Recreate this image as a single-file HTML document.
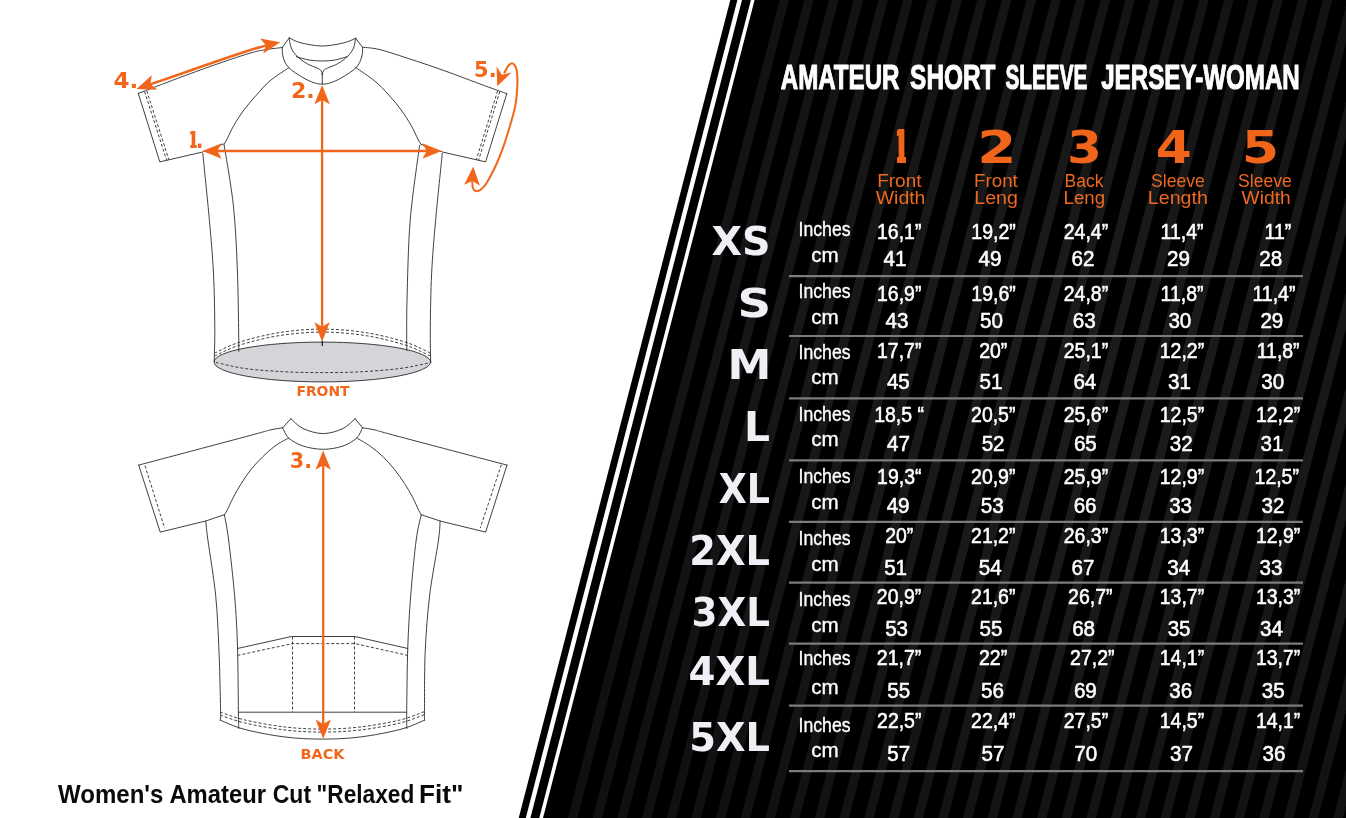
<!DOCTYPE html>
<html lang="en">
<head>
<meta charset="utf-8">
<title>Amateur Short Sleeve Jersey - Woman - Size Chart</title>
<style>
html,body{margin:0;padding:0;background:#fff;}
body{width:1346px;height:818px;overflow:hidden;font-family:"Liberation Sans",sans-serif;}
svg{display:block;}
text{white-space:pre;}
</style>
</head>
<body>
<svg width="1346" height="818" viewBox="0 0 1346 818">
<rect width="1346" height="818" fill="#ffffff"/>

<g id="panel">
<polygon points="730.3,0 737.4,0 525.8,818 518.7,818" fill="#000"/>
<polygon points="742.0,0 750.9,0 539.3,818 530.4,818" fill="#000"/>
<polygon points="754.6,0 1346,0 1346,818 543.0,818" fill="#000"/>
<defs><radialGradient id="sg" gradientUnits="userSpaceOnUse" cx="1070" cy="400" r="540"><stop offset="0" stop-color="#1c1c1c"/><stop offset="0.45" stop-color="#181818"/><stop offset="1" stop-color="#101010"/></radialGradient></defs>
<g fill="url(#sg)">
<polygon points="779.6,0 789.0,0 577.4,818 568.0,818"/>
<polygon points="804.3,0 813.7,0 602.1,818 592.7,818"/>
<polygon points="829.0,0 838.4,0 626.8,818 617.4,818"/>
<polygon points="853.7,0 863.1,0 651.5,818 642.1,818"/>
<polygon points="878.4,0 887.8,0 676.2,818 666.8,818"/>
<polygon points="903.0,0 912.5,0 700.9,818 691.4,818"/>
<polygon points="927.7,0 937.1,0 725.5,818 716.1,818"/>
<polygon points="952.4,0 961.8,0 750.2,818 740.8,818"/>
<polygon points="977.1,0 986.5,0 774.9,818 765.5,818"/>
<polygon points="1001.8,0 1011.2,0 799.6,818 790.2,818"/>
<polygon points="1026.5,0 1035.9,0 824.3,818 814.9,818"/>
<polygon points="1051.2,0 1060.6,0 849.0,818 839.6,818"/>
<polygon points="1075.9,0 1085.3,0 873.7,818 864.3,818"/>
<polygon points="1100.6,0 1110.0,0 898.4,818 889.0,818"/>
<polygon points="1125.3,0 1134.7,0 923.1,818 913.7,818"/>
<polygon points="1150.0,0 1159.4,0 947.8,818 938.4,818"/>
<polygon points="1174.6,0 1184.0,0 972.4,818 963.0,818"/>
<polygon points="1199.3,0 1208.7,0 997.1,818 987.7,818"/>
<polygon points="1224.0,0 1233.4,0 1021.8,818 1012.4,818"/>
<polygon points="1248.7,0 1258.1,0 1046.5,818 1037.1,818"/>
<polygon points="1273.4,0 1282.8,0 1071.2,818 1061.8,818"/>
<polygon points="1298.1,0 1307.5,0 1095.9,818 1086.5,818"/>
<polygon points="1322.8,0 1332.2,0 1120.6,818 1111.2,818"/>
<polygon points="1347.5,0 1356.9,0 1145.3,818 1135.9,818"/>
<polygon points="1372.2,0 1381.6,0 1170.0,818 1160.6,818"/>
<polygon points="1396.8,0 1406.2,0 1194.7,818 1185.2,818"/>
<polygon points="1421.5,0 1430.9,0 1219.3,818 1209.9,818"/>
<polygon points="1446.2,0 1455.6,0 1244.0,818 1234.6,818"/>
<polygon points="1470.9,0 1480.3,0 1268.7,818 1259.3,818"/>
<polygon points="1495.6,0 1505.0,0 1293.4,818 1284.0,818"/>
<polygon points="1520.3,0 1529.7,0 1318.1,818 1308.7,818"/>
<polygon points="1545.0,0 1554.4,0 1342.8,818 1333.4,818"/>
<polygon points="1569.7,0 1579.1,0 1367.5,818 1358.1,818"/>
<polygon points="1594.4,0 1603.8,0 1392.2,818 1382.8,818"/>
</g></g>
<g id="rules" stroke="#7c7c7c" stroke-width="2.2">
<line x1="789" y1="276.1" x2="1303" y2="276.1"/>
<line x1="789" y1="336.0" x2="1303" y2="336.0"/>
<line x1="789" y1="398.3" x2="1303" y2="398.3"/>
<line x1="789" y1="460.4" x2="1303" y2="460.4"/>
<line x1="789" y1="521.9" x2="1303" y2="521.9"/>
<line x1="789" y1="582.7" x2="1303" y2="582.7"/>
<line x1="789" y1="643.7" x2="1303" y2="643.7"/>
<line x1="789" y1="705.7" x2="1303" y2="705.7"/>
<line x1="789" y1="771.1" x2="1303" y2="771.1"/>
</g>
<g id="jersey-front" fill="none" stroke="#2a2a2a" stroke-width="0.9" stroke-linecap="round" stroke-linejoin="round">
<ellipse cx="322.4" cy="362" rx="108.3" ry="19.9" fill="#d3d5d9"/>
<path d="M289.2,37.8 C291.0,38.6 294.5,41.2 300.0,42.6 C305.5,44.0 315.0,46.0 322.3,46.0 C329.6,46.0 338.4,44.1 344.0,42.8 C349.6,41.5 353.7,39.0 355.6,38.2"/>
<path d="M296.3,56.6 C298.4,57.2 304.7,59.3 309.0,60.0 C313.3,60.7 318.0,61.0 322.3,61.0 C326.6,61.0 330.8,60.7 335.0,60.0 C339.2,59.3 345.2,57.2 347.3,56.6"/>
<path d="M289.2,38.0 C289.6,39.7 290.0,45.0 291.3,48.0 C292.6,51.0 294.4,53.6 297.0,56.2 C299.6,58.8 303.6,61.6 306.9,63.6 C310.2,65.6 314.7,66.9 317.0,68.0 C319.3,69.1 320.0,69.3 320.9,70.4 C321.8,71.5 322.1,73.8 322.3,74.5"/>
<path d="M355.6,38.2 C355.2,39.8 354.8,45.0 353.5,48.0 C352.2,51.0 350.4,53.6 347.8,56.2 C345.2,58.8 341.2,61.6 337.9,63.6 C334.6,65.6 330.1,66.9 327.8,68.0 C325.5,69.1 324.7,69.3 323.8,70.4 C322.9,71.5 322.6,73.8 322.3,74.5"/>
<path d="M282.3,47.4 C282.4,49.0 282.0,53.6 283.1,57.0 C284.2,60.4 285.5,64.3 288.8,67.7 C292.1,71.1 298.6,75.0 302.8,77.5 C307.0,80.0 310.9,81.7 314.2,82.8 C317.5,83.9 319.7,84.1 322.4,84.1 C325.1,84.1 327.3,83.9 330.6,82.8 C333.9,81.7 337.8,80.0 342.0,77.5 C346.2,75.0 352.7,71.1 356.0,67.7 C359.3,64.3 360.6,60.4 361.7,57.0 C362.8,53.6 362.5,48.9 362.6,47.3"/>
<path d="M289.2,38.0 L282.3,47.4"/>
<path d="M355.6,38.2 L362.5,47.3"/>
<path d="M322.3,73.5 L322.3,84.2"/>
<path d="M282.2,47.5 C279.5,47.9 271.6,48.6 266.0,49.6 C260.4,50.6 257.7,50.9 248.9,53.5 C240.1,56.1 225.1,61.3 213.2,65.4 C201.3,69.6 190.1,73.7 177.6,78.4 C165.1,83.1 144.9,90.9 138.3,93.4"/>
<path d="M138.3,93.4 L159.8,161.9 L202.6,152.0 L223.1,144.0"/>
<path d="M362.8,47.2 C365.5,47.6 372.2,47.8 379.0,49.4 C385.8,51.0 392.9,53.5 403.8,57.0 C414.7,60.5 430.7,65.8 444.1,70.6 C457.5,75.4 473.9,81.8 484.4,85.6 C494.8,89.4 503.1,92.3 506.8,93.6"/>
<path d="M506.8,93.6 L485.6,161.9 L442.8,152.1 L421.3,144.5"/>
<path d="M288.8,67.7 C285.7,69.9 275.4,76.2 270.0,80.8 C264.6,85.3 260.9,90.1 256.5,95.0 C252.2,99.9 247.7,104.9 243.9,110.0 C240.1,115.1 236.6,120.7 233.8,125.5 C231.0,130.3 228.8,135.7 227.1,138.9 C225.4,142.1 224.4,143.9 223.8,144.9"/>
<path d="M356.0,67.7 C359.2,70.0 369.5,76.7 375.0,81.2 C380.5,85.8 384.4,90.2 388.8,95.0 C393.2,99.8 397.5,104.9 401.2,110.0 C404.9,115.1 408.4,120.7 411.2,125.5 C414.0,130.3 416.1,135.7 417.8,138.9 C419.5,142.1 420.7,143.7 421.3,144.7"/>
<path d="M202.8,153.4 C203.9,164.6 207.6,200.2 209.4,220.3 C211.2,240.4 212.6,256.0 213.5,273.8 C214.4,291.6 214.7,312.8 214.8,327.4 C214.9,342.0 214.3,355.8 214.2,361.5"/>
<path d="M224.2,145.4 C225.8,155.7 231.3,185.5 233.5,206.9 C235.7,228.3 236.6,249.7 237.5,273.8 C238.4,297.9 238.7,338.4 238.9,351.3"/>
<path d="M419.6,145.4 C418.0,157.9 412.3,194.4 410.2,220.3 C408.1,246.2 407.6,278.9 407.0,300.6 C406.4,322.3 406.8,342.2 406.8,350.5"/>
<path d="M442.3,153.4 C441.2,164.6 437.4,200.2 435.6,220.3 C433.8,240.4 432.5,256.0 431.6,273.8 C430.7,291.6 430.5,312.6 430.3,327.4 C430.1,342.2 430.6,356.6 430.7,362.5"/>
<path d="M146.8,90.9 L168.8,159.6" stroke-dasharray="3 2" stroke-linecap="butt"/>
<path d="M144.6,91.6 L166.6,160.3" stroke-dasharray="3 2" stroke-linecap="butt"/>
<path d="M497.6,90.9 L476.4,159.6" stroke-dasharray="3 2" stroke-linecap="butt"/>
<path d="M499.8,91.6 L478.6,160.3" stroke-dasharray="3 2" stroke-linecap="butt"/>
<path d="M214.6,353.1 C218.8,351.2 229.1,345.4 240.0,342.0 C250.9,338.6 266.3,334.6 280.0,332.5 C293.7,330.4 308.2,329.1 322.4,329.1 C336.6,329.1 351.2,330.4 365.0,332.5 C378.8,334.6 394.1,338.6 405.0,342.0 C415.9,345.4 426.2,351.2 430.5,353.1" stroke-dasharray="3 2" stroke-linecap="butt"/>
<path d="M214.6,356.1 C218.8,354.2 229.1,348.4 240.0,345.0 C250.9,341.6 266.3,337.6 280.0,335.5 C293.7,333.4 308.2,332.1 322.4,332.1 C336.6,332.1 351.2,333.4 365.0,335.5 C378.8,337.6 394.1,341.6 405.0,345.0 C415.9,348.4 426.2,354.2 430.5,356.1" stroke-dasharray="3 2" stroke-linecap="butt"/>
<path d="M216.0,362.5 C220.8,363.5 233.5,366.9 245.0,368.5 C256.5,370.1 272.1,371.1 285.0,371.8 C297.9,372.5 309.9,372.6 322.4,372.6 C334.9,372.6 347.1,372.5 360.0,371.8 C372.9,371.1 388.5,370.0 400.0,368.5 C411.5,367.0 424.0,363.9 428.8,363.0" stroke-dasharray="3 2" stroke-linecap="butt"/>
<path d="M322.3,341 L322.3,345.5" stroke="#111" stroke-width="1.2"/>
</g>
<g id="jersey-back" fill="none" stroke="#2a2a2a" stroke-width="0.9" stroke-linecap="round" stroke-linejoin="round">
<path d="M290.9,418.7 C292.9,420.3 297.6,426.0 303.0,428.5 C308.4,431.0 316.5,433.6 323.2,433.6 C329.9,433.6 337.7,431.0 343.0,428.5 C348.3,426.0 353.1,420.3 355.1,418.7"/>
<path d="M282.7,427.8 C283.7,429.5 285.2,435.0 288.6,438.0 C292.0,441.0 297.2,444.1 303.0,446.0 C308.8,447.9 316.5,449.3 323.2,449.3 C329.9,449.3 337.4,447.9 343.0,446.0 C348.6,444.1 353.4,441.0 356.7,438.0 C359.9,435.0 361.5,429.5 362.5,427.8"/>
<path d="M290.9,418.7 L282.7,427.8"/>
<path d="M355.1,418.7 L362.5,427.8"/>
<path d="M282.7,427.8 C280.6,428.2 275.4,428.7 270.0,430.0 C264.6,431.3 271.9,429.6 250.0,435.5 C228.1,441.4 157.2,460.2 138.7,465.1"/>
<path d="M138.7,465.1 L160.2,532.1 L205.7,521.0 L224.4,514.7"/>
<path d="M362.5,427.8 C364.6,428.2 369.6,428.7 375.0,430.0 C380.4,431.3 373.0,429.6 395.0,435.5 C417.0,441.4 488.3,460.2 507.0,465.1"/>
<path d="M507.0,465.1 L485.6,532.1 L440.1,521.0 L421.3,514.7"/>
<path d="M288.6,438.0 C286.3,439.3 279.3,442.9 275.0,446.0 C270.7,449.1 266.8,452.8 262.8,456.7 C258.8,460.6 254.6,465.0 251.0,469.5 C247.4,474.0 244.2,478.9 241.3,483.5 C238.4,488.1 235.9,492.5 233.5,497.0 C231.1,501.5 228.6,507.4 227.1,510.3 C225.6,513.2 224.8,514.0 224.4,514.7"/>
<path d="M356.7,438.0 C358.9,439.3 365.6,442.9 370.0,446.0 C374.4,449.1 378.9,452.8 383.0,456.7 C387.1,460.6 390.9,465.0 394.5,469.5 C398.1,474.0 401.5,478.9 404.5,483.5 C407.5,488.1 410.1,492.5 412.5,497.0 C414.9,501.5 417.2,507.4 418.7,510.3 C420.2,513.2 420.9,514.0 421.3,514.7"/>
<path d="M205.7,521.0 C206.1,524.2 206.2,527.5 207.9,540.0 C209.6,552.5 213.8,577.1 215.7,595.7 C217.5,614.3 218.2,632.1 219.0,651.4 C219.8,670.7 220.4,700.1 220.6,711.6 C220.8,723.1 220.2,718.7 220.1,720.1"/>
<path d="M224.4,514.7 C225.1,518.9 226.9,526.5 228.6,540.0 C230.3,553.5 233.1,577.9 234.6,595.7 C236.1,613.5 236.9,627.7 237.5,647.0 C238.1,666.3 238.2,698.0 238.4,711.6 C238.6,725.2 238.6,725.7 238.7,728.5"/>
<path d="M421.3,514.7 C420.4,518.9 418.0,526.5 416.2,540.0 C414.4,553.5 412.1,577.9 410.7,595.7 C409.3,613.5 408.5,627.7 407.8,647.0 C407.1,666.3 406.9,698.0 406.7,711.6 C406.5,725.2 406.9,725.7 406.9,728.5"/>
<path d="M440.1,521.0 C439.8,524.2 440.2,527.5 438.5,540.0 C436.8,552.5 431.8,577.1 429.6,595.7 C427.4,614.3 426.1,632.1 425.2,651.4 C424.3,670.7 424.6,700.1 424.5,711.6 C424.4,723.1 424.7,718.7 424.7,720.1"/>
<path d="M237.5,648.5 L291.4,636.5 L354.9,636.5 L407.8,648.5"/>
<path d="M238.4,712.2 L406.7,712.2"/>
<path d="M220.1,720.1 C224.2,721.7 234.2,726.7 245.0,729.5 C255.8,732.3 272.1,735.4 285.0,737.0 C297.9,738.6 309.9,739.1 322.4,739.1 C334.9,739.1 347.1,738.6 360.0,737.0 C372.9,735.4 389.2,732.3 400.0,729.5 C410.8,726.7 420.6,721.7 424.7,720.1"/>
<path d="M145.0,465.7 L164.6,528.1" stroke-dasharray="3 2" stroke-linecap="butt"/>
<path d="M501.3,464.8 L480.2,528.1" stroke-dasharray="3 2" stroke-linecap="butt"/>
<path d="M237.5,655.4 L292.5,643.6 L354.9,643.6 L407.8,655.4" stroke-dasharray="3 2" stroke-linecap="butt"/>
<path d="M292.5,636.5 L292.5,712.2" stroke-dasharray="3 2" stroke-linecap="butt"/>
<path d="M354.5,636.5 L354.5,712.2" stroke-dasharray="3 2" stroke-linecap="butt"/>
<path d="M220.1,712.1 C224.2,713.4 234.2,717.5 245.0,720.0 C255.8,722.5 272.1,725.5 285.0,727.0 C297.9,728.5 309.9,729.1 322.4,729.1 C334.9,729.1 347.1,728.5 360.0,727.0 C372.9,725.5 389.2,722.6 400.0,720.0 C410.8,717.4 420.6,712.9 424.7,711.5" stroke-dasharray="3 2" stroke-linecap="butt"/>
<path d="M220.1,715.1 C224.2,716.4 234.2,720.5 245.0,723.0 C255.8,725.5 272.1,728.5 285.0,730.0 C297.9,731.5 309.9,732.1 322.4,732.1 C334.9,732.1 347.1,731.5 360.0,730.0 C372.9,728.5 389.2,725.6 400.0,723.0 C410.8,720.4 420.6,715.9 424.7,714.5" stroke-dasharray="3 2" stroke-linecap="butt"/>
</g>
<g id="arrows">
<line x1="216.3" y1="151.0" x2="427.8" y2="151.0" stroke="#f2661b" stroke-width="2.4"/><polygon points="202.5,151.0 221.7,143.3 217.3,151.0 221.7,158.7" fill="#f2661b"/><polygon points="441.6,151.0 422.4,158.7 426.8,151.0 422.4,143.3" fill="#f2661b"/>
<line x1="322.1" y1="98.9" x2="322.1" y2="327.7" stroke="#f2661b" stroke-width="2.3"/><polygon points="322.1,85.1 329.8,104.3 322.1,99.9 314.4,104.3" fill="#f2661b"/><polygon points="322.1,341.5 314.4,322.3 322.1,326.7 329.8,322.3" fill="#f2661b"/>
<path d="M147.5,85.3 C148.6,84.9 148.8,84.8 153.8,83.1 C158.8,81.4 167.7,78.4 177.6,75.0 C187.5,71.6 201.3,66.6 213.2,62.5 C225.1,58.4 240.8,53.1 248.9,50.5 C257.0,47.9 258.7,47.5 262.0,46.6 C265.3,45.7 267.4,45.3 268.5,45.0" fill="none" stroke="#f2661b" stroke-width="2.5"/>
<polygon points="136.5,89.1 151.8,75.2 150.4,84.0 157.2,89.7" fill="#f2661b"/>
<polygon points="280.4,42.2 263.2,53.6 265.9,45.2 260.0,38.5" fill="#f2661b"/>
<line x1="323.2" y1="464.3" x2="323.2" y2="724.9" stroke="#f2661b" stroke-width="2.3"/><polygon points="323.2,450.5 330.9,469.7 323.2,465.3 315.5,469.7" fill="#f2661b"/><polygon points="323.2,738.7 315.5,719.5 323.2,723.9 330.9,719.5" fill="#f2661b"/>
<path d="M504.5,72.5 C505.1,71.5 506.9,67.7 508.0,66.2 C509.1,64.7 510.2,63.6 511.3,63.4 C512.4,63.2 513.6,63.9 514.5,65.0 C515.4,66.2 516.2,67.2 516.7,70.3 C517.2,73.4 517.6,78.2 517.4,83.8 C517.2,89.4 516.6,97.9 515.6,103.9 C514.6,109.9 513.1,114.9 511.7,120.0 C510.3,125.1 508.9,129.8 507.3,134.7 C505.8,139.6 504.2,144.5 502.4,149.4 C500.6,154.3 498.4,159.6 496.5,164.0 C494.6,168.4 492.6,172.2 490.7,175.8 C488.8,179.4 486.8,183.1 484.8,185.6 C482.8,188.1 480.6,189.9 478.9,190.7 C477.2,191.5 475.8,191.1 474.8,190.6 C473.8,190.1 473.2,188.9 472.8,187.5 C472.4,186.1 472.3,182.9 472.2,182.0" fill="none" stroke="#f2661b" stroke-width="2.0" stroke-linecap="round"/>
<polygon points="497.2,86.3 496.6,66.6 501.9,74.7 511.4,72.6" fill="#f2661b"/>
<polygon points="473.3,166.5 479.9,185.8 472.3,181.0 464.1,184.7" fill="#f2661b"/>
</g>
<defs><filter id="fat0" x="-300%" y="-10%" width="700%" height="120%"><feMorphology operator="dilate" radius="16.0 0"/></filter><filter id="fat1" x="-300%" y="-10%" width="700%" height="120%"><feMorphology operator="dilate" radius="8.7 0"/></filter></defs>
<g id="labels" opacity="0.999">
<text transform="matrix(0.24127 0 0 0.34493 780.73 88.65)" font-family='"Liberation Sans", sans-serif' font-weight="700" font-size="100" fill="#ffffff" stroke="#ffffff" stroke-width="3.07" stroke-linejoin="round" xml:space="preserve">AMATEUR</text>
<text transform="matrix(0.24393 0 0 0.34493 910.12 88.65)" font-family='"Liberation Sans", sans-serif' font-weight="700" font-size="100" fill="#ffffff" stroke="#ffffff" stroke-width="3.06" stroke-linejoin="round" xml:space="preserve">SHORT</text>
<text transform="matrix(0.20747 0 0 0.34493 1005.53 88.65)" font-family='"Liberation Sans", sans-serif' font-weight="700" font-size="100" fill="#ffffff" stroke="#ffffff" stroke-width="3.26" stroke-linejoin="round" xml:space="preserve">SLEEVE</text>
<text transform="matrix(0.24165 0 0 0.34493 1101.17 88.65)" font-family='"Liberation Sans", sans-serif' font-weight="700" font-size="100" fill="#ffffff" stroke="#ffffff" stroke-width="3.07" stroke-linejoin="round" xml:space="preserve">JERSEY-WOMAN</text>
<text transform="matrix(0.10000 0 0 0.45890 897.80 163.30)" font-family='"DejaVu Sans", sans-serif' font-weight="700" font-size="100" fill="#f2661b" filter="url(#fat0)" xml:space="preserve">1</text>
<text transform="matrix(0.56226 0 0 0.45270 977.30 163.30)" font-family='"DejaVu Sans", sans-serif' font-weight="700" font-size="100" fill="#f2661b" xml:space="preserve">2</text>
<text transform="matrix(0.50182 0 0 0.44079 1066.89 162.86)" font-family='"DejaVu Sans", sans-serif' font-weight="700" font-size="100" fill="#f2661b" xml:space="preserve">3</text>
<text transform="matrix(0.51967 0 0 0.45270 1155.72 162.85)" font-family='"DejaVu Sans", sans-serif' font-weight="700" font-size="100" fill="#f2661b" xml:space="preserve">4</text>
<text transform="matrix(0.53636 0 0 0.45270 1241.71 162.85)" font-family='"DejaVu Sans", sans-serif' font-weight="700" font-size="100" fill="#f2661b" xml:space="preserve">5</text>
<text transform="matrix(0.19022 0 0 0.18261 877.18 186.90)" font-family='"Liberation Sans", sans-serif' font-weight="400" font-size="100" fill="#ee6a22" xml:space="preserve">Front</text>
<text transform="matrix(0.19478 0 0 0.18261 875.70 203.50)" font-family='"Liberation Sans", sans-serif' font-weight="400" font-size="100" fill="#ee6a22" xml:space="preserve">Width</text>
<text transform="matrix(0.18800 0 0 0.18261 974.00 186.90)" font-family='"Liberation Sans", sans-serif' font-weight="400" font-size="100" fill="#ee6a22" xml:space="preserve">Front</text>
<text transform="matrix(0.19567 0 0 0.18261 974.33 203.50)" font-family='"Liberation Sans", sans-serif' font-weight="400" font-size="100" fill="#ee6a22" xml:space="preserve">Leng</text>
<text transform="matrix(0.17477 0 0 0.18261 1064.60 186.90)" font-family='"Liberation Sans", sans-serif' font-weight="400" font-size="100" fill="#ee6a22" xml:space="preserve">Back</text>
<text transform="matrix(0.18702 0 0 0.18261 1063.50 203.50)" font-family='"Liberation Sans", sans-serif' font-weight="400" font-size="100" fill="#ee6a22" xml:space="preserve">Leng</text>
<text transform="matrix(0.17542 0 0 0.18261 1151.12 186.90)" font-family='"Liberation Sans", sans-serif' font-weight="400" font-size="100" fill="#ee6a22" xml:space="preserve">Sleeve</text>
<text transform="matrix(0.19658 0 0 0.18261 1147.83 203.50)" font-family='"Liberation Sans", sans-serif' font-weight="400" font-size="100" fill="#ee6a22" xml:space="preserve">Length</text>
<text transform="matrix(0.17576 0 0 0.18261 1238.02 186.90)" font-family='"Liberation Sans", sans-serif' font-weight="400" font-size="100" fill="#ee6a22" xml:space="preserve">Sleeve</text>
<text transform="matrix(0.19197 0 0 0.18261 1241.60 203.50)" font-family='"Liberation Sans", sans-serif' font-weight="400" font-size="100" fill="#ee6a22" xml:space="preserve">Width</text>
<text transform="matrix(0.39643 0 0 0.38816 711.51 255.21)" font-family='"DejaVu Sans", sans-serif' font-weight="700" font-size="100" fill="#f2f0f7" xml:space="preserve">XS</text>
<text transform="matrix(0.46724 0 0 0.38816 737.43 317.41)" font-family='"DejaVu Sans", sans-serif' font-weight="700" font-size="100" fill="#f2f0f7" xml:space="preserve">S</text>
<text transform="matrix(0.44074 0 0 0.40411 727.53 379.10)" font-family='"DejaVu Sans", sans-serif' font-weight="700" font-size="100" fill="#f2f0f7" xml:space="preserve">M</text>
<text transform="matrix(0.40769 0 0 0.40959 743.93 440.50)" font-family='"DejaVu Sans", sans-serif' font-weight="700" font-size="100" fill="#f2f0f7" xml:space="preserve">L</text>
<text transform="matrix(0.36397 0 0 0.40137 718.77 503.00)" font-family='"DejaVu Sans", sans-serif' font-weight="700" font-size="100" fill="#f2f0f7" xml:space="preserve">XL</text>
<text transform="matrix(0.38350 0 0 0.40541 689.23 565.20)" font-family='"DejaVu Sans", sans-serif' font-weight="700" font-size="100" fill="#f2f0f7" xml:space="preserve">2XL</text>
<text transform="matrix(0.37264 0 0 0.39474 691.49 625.61)" font-family='"DejaVu Sans", sans-serif' font-weight="700" font-size="100" fill="#f2f0f7" xml:space="preserve">3XL</text>
<text transform="matrix(0.38725 0 0 0.39730 688.45 685.40)" font-family='"DejaVu Sans", sans-serif' font-weight="700" font-size="100" fill="#f2f0f7" xml:space="preserve">4XL</text>
<text transform="matrix(0.38350 0 0 0.39865 689.23 751.30)" font-family='"DejaVu Sans", sans-serif' font-weight="700" font-size="100" fill="#f2f0f7" xml:space="preserve">5XL</text>
<text transform="matrix(0.17642 0 0 0.20797 798.59 235.72)" font-family='"Liberation Sans", sans-serif' font-weight="400" font-size="100" fill="#ffffff" stroke="#ffffff" stroke-width="1.82" stroke-linejoin="round" xml:space="preserve">Inches</text>
<text transform="matrix(0.20610 0 0 0.20797 811.15 261.82)" font-family='"Liberation Sans", sans-serif' font-weight="400" font-size="100" fill="#ffffff" stroke="#ffffff" stroke-width="1.69" stroke-linejoin="round" xml:space="preserve">cm</text>
<text transform="matrix(0.19472 0 0 0.21522 877.01 238.82)" font-family='"Liberation Sans", sans-serif' font-weight="400" font-size="100" fill="#ffffff" stroke="#ffffff" stroke-width="2.68" stroke-linejoin="round" xml:space="preserve">16,1”</text>
<text transform="matrix(0.20619 0 0 0.21377 883.62 265.73)" font-family='"Liberation Sans", sans-serif' font-weight="400" font-size="100" fill="#ffffff" stroke="#ffffff" stroke-width="2.62" stroke-linejoin="round" xml:space="preserve">41</text>
<text transform="matrix(0.19472 0 0 0.21522 971.36 238.82)" font-family='"Liberation Sans", sans-serif' font-weight="400" font-size="100" fill="#ffffff" stroke="#ffffff" stroke-width="2.68" stroke-linejoin="round" xml:space="preserve">19,2”</text>
<text transform="matrix(0.20619 0 0 0.21377 978.56 265.73)" font-family='"Liberation Sans", sans-serif' font-weight="400" font-size="100" fill="#ffffff" stroke="#ffffff" stroke-width="2.62" stroke-linejoin="round" xml:space="preserve">49</text>
<text transform="matrix(0.19472 0 0 0.21522 1063.76 238.82)" font-family='"Liberation Sans", sans-serif' font-weight="400" font-size="100" fill="#ffffff" stroke="#ffffff" stroke-width="2.68" stroke-linejoin="round" xml:space="preserve">24,4”</text>
<text transform="matrix(0.20619 0 0 0.21377 1071.51 265.73)" font-family='"Liberation Sans", sans-serif' font-weight="400" font-size="100" fill="#ffffff" stroke="#ffffff" stroke-width="2.62" stroke-linejoin="round" xml:space="preserve">62</text>
<text transform="matrix(0.19472 0 0 0.21522 1160.54 238.82)" font-family='"Liberation Sans", sans-serif' font-weight="400" font-size="100" fill="#ffffff" stroke="#ffffff" stroke-width="2.68" stroke-linejoin="round" xml:space="preserve">11,4”</text>
<text transform="matrix(0.20619 0 0 0.21377 1167.05 265.73)" font-family='"Liberation Sans", sans-serif' font-weight="400" font-size="100" fill="#ffffff" stroke="#ffffff" stroke-width="2.62" stroke-linejoin="round" xml:space="preserve">29</text>
<text transform="matrix(0.19472 0 0 0.21522 1264.52 238.82)" font-family='"Liberation Sans", sans-serif' font-weight="400" font-size="100" fill="#ffffff" stroke="#ffffff" stroke-width="2.68" stroke-linejoin="round" xml:space="preserve">11”</text>
<text transform="matrix(0.20619 0 0 0.21377 1259.25 265.73)" font-family='"Liberation Sans", sans-serif' font-weight="400" font-size="100" fill="#ffffff" stroke="#ffffff" stroke-width="2.62" stroke-linejoin="round" xml:space="preserve">28</text>
<text transform="matrix(0.17642 0 0 0.20797 798.59 297.72)" font-family='"Liberation Sans", sans-serif' font-weight="400" font-size="100" fill="#ffffff" stroke="#ffffff" stroke-width="1.82" stroke-linejoin="round" xml:space="preserve">Inches</text>
<text transform="matrix(0.20610 0 0 0.20797 811.15 323.52)" font-family='"Liberation Sans", sans-serif' font-weight="400" font-size="100" fill="#ffffff" stroke="#ffffff" stroke-width="1.69" stroke-linejoin="round" xml:space="preserve">cm</text>
<text transform="matrix(0.19472 0 0 0.22101 877.01 300.53)" font-family='"Liberation Sans", sans-serif' font-weight="400" font-size="100" fill="#ffffff" stroke="#ffffff" stroke-width="2.65" stroke-linejoin="round" xml:space="preserve">16,9”</text>
<text transform="matrix(0.20619 0 0 0.21957 885.56 327.73)" font-family='"Liberation Sans", sans-serif' font-weight="400" font-size="100" fill="#ffffff" stroke="#ffffff" stroke-width="2.58" stroke-linejoin="round" xml:space="preserve">43</text>
<text transform="matrix(0.19472 0 0 0.22101 971.36 300.53)" font-family='"Liberation Sans", sans-serif' font-weight="400" font-size="100" fill="#ffffff" stroke="#ffffff" stroke-width="2.65" stroke-linejoin="round" xml:space="preserve">19,6”</text>
<text transform="matrix(0.20619 0 0 0.21957 980.06 327.73)" font-family='"Liberation Sans", sans-serif' font-weight="400" font-size="100" fill="#ffffff" stroke="#ffffff" stroke-width="2.58" stroke-linejoin="round" xml:space="preserve">50</text>
<text transform="matrix(0.19472 0 0 0.22101 1063.76 300.53)" font-family='"Liberation Sans", sans-serif' font-weight="400" font-size="100" fill="#ffffff" stroke="#ffffff" stroke-width="2.65" stroke-linejoin="round" xml:space="preserve">24,8”</text>
<text transform="matrix(0.20619 0 0 0.21957 1072.75 327.73)" font-family='"Liberation Sans", sans-serif' font-weight="400" font-size="100" fill="#ffffff" stroke="#ffffff" stroke-width="2.58" stroke-linejoin="round" xml:space="preserve">63</text>
<text transform="matrix(0.19472 0 0 0.22101 1160.54 300.53)" font-family='"Liberation Sans", sans-serif' font-weight="400" font-size="100" fill="#ffffff" stroke="#ffffff" stroke-width="2.65" stroke-linejoin="round" xml:space="preserve">11,8”</text>
<text transform="matrix(0.20619 0 0 0.21957 1168.41 327.73)" font-family='"Liberation Sans", sans-serif' font-weight="400" font-size="100" fill="#ffffff" stroke="#ffffff" stroke-width="2.58" stroke-linejoin="round" xml:space="preserve">30</text>
<text transform="matrix(0.19472 0 0 0.22101 1252.49 300.53)" font-family='"Liberation Sans", sans-serif' font-weight="400" font-size="100" fill="#ffffff" stroke="#ffffff" stroke-width="2.65" stroke-linejoin="round" xml:space="preserve">11,4”</text>
<text transform="matrix(0.20619 0 0 0.21957 1260.40 327.73)" font-family='"Liberation Sans", sans-serif' font-weight="400" font-size="100" fill="#ffffff" stroke="#ffffff" stroke-width="2.58" stroke-linejoin="round" xml:space="preserve">29</text>
<text transform="matrix(0.17642 0 0 0.20797 798.59 358.52)" font-family='"Liberation Sans", sans-serif' font-weight="400" font-size="100" fill="#ffffff" stroke="#ffffff" stroke-width="1.82" stroke-linejoin="round" xml:space="preserve">Inches</text>
<text transform="matrix(0.20610 0 0 0.20797 811.15 384.32)" font-family='"Liberation Sans", sans-serif' font-weight="400" font-size="100" fill="#ffffff" stroke="#ffffff" stroke-width="1.69" stroke-linejoin="round" xml:space="preserve">cm</text>
<text transform="matrix(0.19472 0 0 0.22391 877.01 357.93)" font-family='"Liberation Sans", sans-serif' font-weight="400" font-size="100" fill="#ffffff" stroke="#ffffff" stroke-width="2.63" stroke-linejoin="round" xml:space="preserve">17,7”</text>
<text transform="matrix(0.20619 0 0 0.22246 886.91 388.83)" font-family='"Liberation Sans", sans-serif' font-weight="400" font-size="100" fill="#ffffff" stroke="#ffffff" stroke-width="2.57" stroke-linejoin="round" xml:space="preserve">45</text>
<text transform="matrix(0.19472 0 0 0.22391 979.19 357.93)" font-family='"Liberation Sans", sans-serif' font-weight="400" font-size="100" fill="#ffffff" stroke="#ffffff" stroke-width="2.63" stroke-linejoin="round" xml:space="preserve">20”</text>
<text transform="matrix(0.20619 0 0 0.22246 979.51 388.83)" font-family='"Liberation Sans", sans-serif' font-weight="400" font-size="100" fill="#ffffff" stroke="#ffffff" stroke-width="2.57" stroke-linejoin="round" xml:space="preserve">51</text>
<text transform="matrix(0.19472 0 0 0.22391 1063.76 357.93)" font-family='"Liberation Sans", sans-serif' font-weight="400" font-size="100" fill="#ffffff" stroke="#ffffff" stroke-width="2.63" stroke-linejoin="round" xml:space="preserve">25,1”</text>
<text transform="matrix(0.20619 0 0 0.22246 1073.40 388.83)" font-family='"Liberation Sans", sans-serif' font-weight="400" font-size="100" fill="#ffffff" stroke="#ffffff" stroke-width="2.57" stroke-linejoin="round" xml:space="preserve">64</text>
<text transform="matrix(0.19472 0 0 0.22391 1159.76 357.93)" font-family='"Liberation Sans", sans-serif' font-weight="400" font-size="100" fill="#ffffff" stroke="#ffffff" stroke-width="2.63" stroke-linejoin="round" xml:space="preserve">12,2”</text>
<text transform="matrix(0.20619 0 0 0.22246 1167.96 388.83)" font-family='"Liberation Sans", sans-serif' font-weight="400" font-size="100" fill="#ffffff" stroke="#ffffff" stroke-width="2.57" stroke-linejoin="round" xml:space="preserve">31</text>
<text transform="matrix(0.19472 0 0 0.22391 1256.69 357.93)" font-family='"Liberation Sans", sans-serif' font-weight="400" font-size="100" fill="#ffffff" stroke="#ffffff" stroke-width="2.63" stroke-linejoin="round" xml:space="preserve">11,8”</text>
<text transform="matrix(0.20619 0 0 0.22246 1261.26 388.83)" font-family='"Liberation Sans", sans-serif' font-weight="400" font-size="100" fill="#ffffff" stroke="#ffffff" stroke-width="2.57" stroke-linejoin="round" xml:space="preserve">30</text>
<text transform="matrix(0.17642 0 0 0.20797 798.59 421.22)" font-family='"Liberation Sans", sans-serif' font-weight="400" font-size="100" fill="#ffffff" stroke="#ffffff" stroke-width="1.82" stroke-linejoin="round" xml:space="preserve">Inches</text>
<text transform="matrix(0.20610 0 0 0.20797 811.15 446.12)" font-family='"Liberation Sans", sans-serif' font-weight="400" font-size="100" fill="#ffffff" stroke="#ffffff" stroke-width="1.69" stroke-linejoin="round" xml:space="preserve">cm</text>
<text transform="matrix(0.19472 0 0 0.22391 874.23 422.12)" font-family='"Liberation Sans", sans-serif' font-weight="400" font-size="100" fill="#ffffff" stroke="#ffffff" stroke-width="2.63" stroke-linejoin="round" xml:space="preserve">18,5 “</text>
<text transform="matrix(0.20619 0 0 0.22101 886.92 450.93)" font-family='"Liberation Sans", sans-serif' font-weight="400" font-size="100" fill="#ffffff" stroke="#ffffff" stroke-width="2.57" stroke-linejoin="round" xml:space="preserve">47</text>
<text transform="matrix(0.19472 0 0 0.22391 971.06 422.12)" font-family='"Liberation Sans", sans-serif' font-weight="400" font-size="100" fill="#ffffff" stroke="#ffffff" stroke-width="2.63" stroke-linejoin="round" xml:space="preserve">20,5”</text>
<text transform="matrix(0.20619 0 0 0.22101 981.66 450.93)" font-family='"Liberation Sans", sans-serif' font-weight="400" font-size="100" fill="#ffffff" stroke="#ffffff" stroke-width="2.57" stroke-linejoin="round" xml:space="preserve">52</text>
<text transform="matrix(0.19472 0 0 0.22391 1063.76 422.12)" font-family='"Liberation Sans", sans-serif' font-weight="400" font-size="100" fill="#ffffff" stroke="#ffffff" stroke-width="2.63" stroke-linejoin="round" xml:space="preserve">25,6”</text>
<text transform="matrix(0.20619 0 0 0.22101 1073.90 450.93)" font-family='"Liberation Sans", sans-serif' font-weight="400" font-size="100" fill="#ffffff" stroke="#ffffff" stroke-width="2.57" stroke-linejoin="round" xml:space="preserve">65</text>
<text transform="matrix(0.19472 0 0 0.22391 1159.76 422.12)" font-family='"Liberation Sans", sans-serif' font-weight="400" font-size="100" fill="#ffffff" stroke="#ffffff" stroke-width="2.63" stroke-linejoin="round" xml:space="preserve">12,5”</text>
<text transform="matrix(0.20619 0 0 0.22101 1169.71 450.93)" font-family='"Liberation Sans", sans-serif' font-weight="400" font-size="100" fill="#ffffff" stroke="#ffffff" stroke-width="2.57" stroke-linejoin="round" xml:space="preserve">32</text>
<text transform="matrix(0.19472 0 0 0.22391 1255.91 422.12)" font-family='"Liberation Sans", sans-serif' font-weight="400" font-size="100" fill="#ffffff" stroke="#ffffff" stroke-width="2.63" stroke-linejoin="round" xml:space="preserve">12,2”</text>
<text transform="matrix(0.20619 0 0 0.22101 1260.56 450.93)" font-family='"Liberation Sans", sans-serif' font-weight="400" font-size="100" fill="#ffffff" stroke="#ffffff" stroke-width="2.57" stroke-linejoin="round" xml:space="preserve">31</text>
<text transform="matrix(0.17642 0 0 0.20797 798.59 483.43)" font-family='"Liberation Sans", sans-serif' font-weight="400" font-size="100" fill="#ffffff" stroke="#ffffff" stroke-width="1.82" stroke-linejoin="round" xml:space="preserve">Inches</text>
<text transform="matrix(0.20610 0 0 0.20797 811.15 508.82)" font-family='"Liberation Sans", sans-serif' font-weight="400" font-size="100" fill="#ffffff" stroke="#ffffff" stroke-width="1.69" stroke-linejoin="round" xml:space="preserve">cm</text>
<text transform="matrix(0.19472 0 0 0.22826 877.11 484.33)" font-family='"Liberation Sans", sans-serif' font-weight="400" font-size="100" fill="#ffffff" stroke="#ffffff" stroke-width="2.60" stroke-linejoin="round" xml:space="preserve">19,3“</text>
<text transform="matrix(0.20619 0 0 0.21812 886.66 513.23)" font-family='"Liberation Sans", sans-serif' font-weight="400" font-size="100" fill="#ffffff" stroke="#ffffff" stroke-width="2.59" stroke-linejoin="round" xml:space="preserve">49</text>
<text transform="matrix(0.19472 0 0 0.22826 971.06 484.33)" font-family='"Liberation Sans", sans-serif' font-weight="400" font-size="100" fill="#ffffff" stroke="#ffffff" stroke-width="2.60" stroke-linejoin="round" xml:space="preserve">20,9”</text>
<text transform="matrix(0.20619 0 0 0.21812 980.71 513.23)" font-family='"Liberation Sans", sans-serif' font-weight="400" font-size="100" fill="#ffffff" stroke="#ffffff" stroke-width="2.59" stroke-linejoin="round" xml:space="preserve">53</text>
<text transform="matrix(0.19472 0 0 0.22826 1063.76 484.33)" font-family='"Liberation Sans", sans-serif' font-weight="400" font-size="100" fill="#ffffff" stroke="#ffffff" stroke-width="2.60" stroke-linejoin="round" xml:space="preserve">25,9”</text>
<text transform="matrix(0.20619 0 0 0.21812 1073.65 513.23)" font-family='"Liberation Sans", sans-serif' font-weight="400" font-size="100" fill="#ffffff" stroke="#ffffff" stroke-width="2.59" stroke-linejoin="round" xml:space="preserve">66</text>
<text transform="matrix(0.19472 0 0 0.22826 1159.76 484.33)" font-family='"Liberation Sans", sans-serif' font-weight="400" font-size="100" fill="#ffffff" stroke="#ffffff" stroke-width="2.60" stroke-linejoin="round" xml:space="preserve">12,9”</text>
<text transform="matrix(0.20619 0 0 0.21812 1169.16 513.23)" font-family='"Liberation Sans", sans-serif' font-weight="400" font-size="100" fill="#ffffff" stroke="#ffffff" stroke-width="2.59" stroke-linejoin="round" xml:space="preserve">33</text>
<text transform="matrix(0.19472 0 0 0.22826 1254.56 484.33)" font-family='"Liberation Sans", sans-serif' font-weight="400" font-size="100" fill="#ffffff" stroke="#ffffff" stroke-width="2.60" stroke-linejoin="round" xml:space="preserve">12,5”</text>
<text transform="matrix(0.20619 0 0 0.21812 1261.51 513.23)" font-family='"Liberation Sans", sans-serif' font-weight="400" font-size="100" fill="#ffffff" stroke="#ffffff" stroke-width="2.59" stroke-linejoin="round" xml:space="preserve">32</text>
<text transform="matrix(0.17642 0 0 0.20797 798.59 545.12)" font-family='"Liberation Sans", sans-serif' font-weight="400" font-size="100" fill="#ffffff" stroke="#ffffff" stroke-width="1.82" stroke-linejoin="round" xml:space="preserve">Inches</text>
<text transform="matrix(0.20610 0 0 0.20797 811.15 571.12)" font-family='"Liberation Sans", sans-serif' font-weight="400" font-size="100" fill="#ffffff" stroke="#ffffff" stroke-width="1.69" stroke-linejoin="round" xml:space="preserve">cm</text>
<text transform="matrix(0.19472 0 0 0.22246 885.14 543.02)" font-family='"Liberation Sans", sans-serif' font-weight="400" font-size="100" fill="#ffffff" stroke="#ffffff" stroke-width="2.64" stroke-linejoin="round" xml:space="preserve">20”</text>
<text transform="matrix(0.20619 0 0 0.21957 884.16 575.43)" font-family='"Liberation Sans", sans-serif' font-weight="400" font-size="100" fill="#ffffff" stroke="#ffffff" stroke-width="2.58" stroke-linejoin="round" xml:space="preserve">51</text>
<text transform="matrix(0.19472 0 0 0.22246 971.06 543.02)" font-family='"Liberation Sans", sans-serif' font-weight="400" font-size="100" fill="#ffffff" stroke="#ffffff" stroke-width="2.64" stroke-linejoin="round" xml:space="preserve">21,2”</text>
<text transform="matrix(0.20619 0 0 0.21957 978.85 575.43)" font-family='"Liberation Sans", sans-serif' font-weight="400" font-size="100" fill="#ffffff" stroke="#ffffff" stroke-width="2.58" stroke-linejoin="round" xml:space="preserve">54</text>
<text transform="matrix(0.19472 0 0 0.22246 1063.76 543.02)" font-family='"Liberation Sans", sans-serif' font-weight="400" font-size="100" fill="#ffffff" stroke="#ffffff" stroke-width="2.64" stroke-linejoin="round" xml:space="preserve">26,3”</text>
<text transform="matrix(0.20619 0 0 0.21957 1071.51 575.43)" font-family='"Liberation Sans", sans-serif' font-weight="400" font-size="100" fill="#ffffff" stroke="#ffffff" stroke-width="2.58" stroke-linejoin="round" xml:space="preserve">67</text>
<text transform="matrix(0.19472 0 0 0.22246 1159.76 543.02)" font-family='"Liberation Sans", sans-serif' font-weight="400" font-size="100" fill="#ffffff" stroke="#ffffff" stroke-width="2.64" stroke-linejoin="round" xml:space="preserve">13,3”</text>
<text transform="matrix(0.20619 0 0 0.21957 1167.20 575.43)" font-family='"Liberation Sans", sans-serif' font-weight="400" font-size="100" fill="#ffffff" stroke="#ffffff" stroke-width="2.58" stroke-linejoin="round" xml:space="preserve">34</text>
<text transform="matrix(0.19472 0 0 0.22246 1255.91 543.02)" font-family='"Liberation Sans", sans-serif' font-weight="400" font-size="100" fill="#ffffff" stroke="#ffffff" stroke-width="2.64" stroke-linejoin="round" xml:space="preserve">12,9”</text>
<text transform="matrix(0.20619 0 0 0.21957 1259.51 575.43)" font-family='"Liberation Sans", sans-serif' font-weight="400" font-size="100" fill="#ffffff" stroke="#ffffff" stroke-width="2.58" stroke-linejoin="round" xml:space="preserve">33</text>
<text transform="matrix(0.17642 0 0 0.20797 798.59 605.93)" font-family='"Liberation Sans", sans-serif' font-weight="400" font-size="100" fill="#ffffff" stroke="#ffffff" stroke-width="1.82" stroke-linejoin="round" xml:space="preserve">Inches</text>
<text transform="matrix(0.20610 0 0 0.20797 811.15 631.93)" font-family='"Liberation Sans", sans-serif' font-weight="400" font-size="100" fill="#ffffff" stroke="#ffffff" stroke-width="1.69" stroke-linejoin="round" xml:space="preserve">cm</text>
<text transform="matrix(0.19472 0 0 0.22536 876.86 604.12)" font-family='"Liberation Sans", sans-serif' font-weight="400" font-size="100" fill="#ffffff" stroke="#ffffff" stroke-width="2.62" stroke-linejoin="round" xml:space="preserve">20,9”</text>
<text transform="matrix(0.20619 0 0 0.21957 885.16 636.23)" font-family='"Liberation Sans", sans-serif' font-weight="400" font-size="100" fill="#ffffff" stroke="#ffffff" stroke-width="2.58" stroke-linejoin="round" xml:space="preserve">53</text>
<text transform="matrix(0.19472 0 0 0.22536 971.06 604.12)" font-family='"Liberation Sans", sans-serif' font-weight="400" font-size="100" fill="#ffffff" stroke="#ffffff" stroke-width="2.62" stroke-linejoin="round" xml:space="preserve">21,6”</text>
<text transform="matrix(0.20619 0 0 0.21957 979.56 636.23)" font-family='"Liberation Sans", sans-serif' font-weight="400" font-size="100" fill="#ffffff" stroke="#ffffff" stroke-width="2.58" stroke-linejoin="round" xml:space="preserve">55</text>
<text transform="matrix(0.19472 0 0 0.22536 1068.11 604.12)" font-family='"Liberation Sans", sans-serif' font-weight="400" font-size="100" fill="#ffffff" stroke="#ffffff" stroke-width="2.62" stroke-linejoin="round" xml:space="preserve">26,7”</text>
<text transform="matrix(0.20619 0 0 0.21957 1072.15 636.23)" font-family='"Liberation Sans", sans-serif' font-weight="400" font-size="100" fill="#ffffff" stroke="#ffffff" stroke-width="2.58" stroke-linejoin="round" xml:space="preserve">68</text>
<text transform="matrix(0.19472 0 0 0.22536 1159.76 604.12)" font-family='"Liberation Sans", sans-serif' font-weight="400" font-size="100" fill="#ffffff" stroke="#ffffff" stroke-width="2.62" stroke-linejoin="round" xml:space="preserve">13,7”</text>
<text transform="matrix(0.20619 0 0 0.21957 1167.66 636.23)" font-family='"Liberation Sans", sans-serif' font-weight="400" font-size="100" fill="#ffffff" stroke="#ffffff" stroke-width="2.58" stroke-linejoin="round" xml:space="preserve">35</text>
<text transform="matrix(0.19472 0 0 0.22536 1255.91 604.12)" font-family='"Liberation Sans", sans-serif' font-weight="400" font-size="100" fill="#ffffff" stroke="#ffffff" stroke-width="2.62" stroke-linejoin="round" xml:space="preserve">13,3”</text>
<text transform="matrix(0.20619 0 0 0.21957 1259.95 636.23)" font-family='"Liberation Sans", sans-serif' font-weight="400" font-size="100" fill="#ffffff" stroke="#ffffff" stroke-width="2.58" stroke-linejoin="round" xml:space="preserve">34</text>
<text transform="matrix(0.17642 0 0 0.20797 798.59 664.73)" font-family='"Liberation Sans", sans-serif' font-weight="400" font-size="100" fill="#ffffff" stroke="#ffffff" stroke-width="1.82" stroke-linejoin="round" xml:space="preserve">Inches</text>
<text transform="matrix(0.20610 0 0 0.20797 811.15 693.53)" font-family='"Liberation Sans", sans-serif' font-weight="400" font-size="100" fill="#ffffff" stroke="#ffffff" stroke-width="1.69" stroke-linejoin="round" xml:space="preserve">cm</text>
<text transform="matrix(0.19472 0 0 0.22971 876.86 664.62)" font-family='"Liberation Sans", sans-serif' font-weight="400" font-size="100" fill="#ffffff" stroke="#ffffff" stroke-width="2.59" stroke-linejoin="round" xml:space="preserve">21,7”</text>
<text transform="matrix(0.20619 0 0 0.22101 887.21 698.23)" font-family='"Liberation Sans", sans-serif' font-weight="400" font-size="100" fill="#ffffff" stroke="#ffffff" stroke-width="2.57" stroke-linejoin="round" xml:space="preserve">55</text>
<text transform="matrix(0.19472 0 0 0.22971 979.04 664.62)" font-family='"Liberation Sans", sans-serif' font-weight="400" font-size="100" fill="#ffffff" stroke="#ffffff" stroke-width="2.59" stroke-linejoin="round" xml:space="preserve">22”</text>
<text transform="matrix(0.20619 0 0 0.22101 981.06 698.23)" font-family='"Liberation Sans", sans-serif' font-weight="400" font-size="100" fill="#ffffff" stroke="#ffffff" stroke-width="2.57" stroke-linejoin="round" xml:space="preserve">56</text>
<text transform="matrix(0.19472 0 0 0.22971 1070.11 664.62)" font-family='"Liberation Sans", sans-serif' font-weight="400" font-size="100" fill="#ffffff" stroke="#ffffff" stroke-width="2.59" stroke-linejoin="round" xml:space="preserve">27,2”</text>
<text transform="matrix(0.20619 0 0 0.22101 1073.90 698.23)" font-family='"Liberation Sans", sans-serif' font-weight="400" font-size="100" fill="#ffffff" stroke="#ffffff" stroke-width="2.57" stroke-linejoin="round" xml:space="preserve">69</text>
<text transform="matrix(0.19472 0 0 0.22971 1159.76 664.62)" font-family='"Liberation Sans", sans-serif' font-weight="400" font-size="100" fill="#ffffff" stroke="#ffffff" stroke-width="2.59" stroke-linejoin="round" xml:space="preserve">14,1”</text>
<text transform="matrix(0.20619 0 0 0.22101 1169.36 698.23)" font-family='"Liberation Sans", sans-serif' font-weight="400" font-size="100" fill="#ffffff" stroke="#ffffff" stroke-width="2.57" stroke-linejoin="round" xml:space="preserve">36</text>
<text transform="matrix(0.19472 0 0 0.22971 1255.91 664.62)" font-family='"Liberation Sans", sans-serif' font-weight="400" font-size="100" fill="#ffffff" stroke="#ffffff" stroke-width="2.59" stroke-linejoin="round" xml:space="preserve">13,7”</text>
<text transform="matrix(0.20619 0 0 0.22101 1261.76 698.23)" font-family='"Liberation Sans", sans-serif' font-weight="400" font-size="100" fill="#ffffff" stroke="#ffffff" stroke-width="2.57" stroke-linejoin="round" xml:space="preserve">35</text>
<text transform="matrix(0.17642 0 0 0.20797 798.59 731.62)" font-family='"Liberation Sans", sans-serif' font-weight="400" font-size="100" fill="#ffffff" stroke="#ffffff" stroke-width="1.82" stroke-linejoin="round" xml:space="preserve">Inches</text>
<text transform="matrix(0.20610 0 0 0.20797 811.15 757.33)" font-family='"Liberation Sans", sans-serif' font-weight="400" font-size="100" fill="#ffffff" stroke="#ffffff" stroke-width="1.69" stroke-linejoin="round" xml:space="preserve">cm</text>
<text transform="matrix(0.19472 0 0 0.22826 877.06 728.33)" font-family='"Liberation Sans", sans-serif' font-weight="400" font-size="100" fill="#ffffff" stroke="#ffffff" stroke-width="2.60" stroke-linejoin="round" xml:space="preserve">22,5”</text>
<text transform="matrix(0.20619 0 0 0.21957 887.31 761.33)" font-family='"Liberation Sans", sans-serif' font-weight="400" font-size="100" fill="#ffffff" stroke="#ffffff" stroke-width="2.58" stroke-linejoin="round" xml:space="preserve">57</text>
<text transform="matrix(0.19472 0 0 0.22826 971.06 728.33)" font-family='"Liberation Sans", sans-serif' font-weight="400" font-size="100" fill="#ffffff" stroke="#ffffff" stroke-width="2.60" stroke-linejoin="round" xml:space="preserve">22,4”</text>
<text transform="matrix(0.20619 0 0 0.21957 981.51 761.33)" font-family='"Liberation Sans", sans-serif' font-weight="400" font-size="100" fill="#ffffff" stroke="#ffffff" stroke-width="2.58" stroke-linejoin="round" xml:space="preserve">57</text>
<text transform="matrix(0.19472 0 0 0.22826 1063.76 728.33)" font-family='"Liberation Sans", sans-serif' font-weight="400" font-size="100" fill="#ffffff" stroke="#ffffff" stroke-width="2.60" stroke-linejoin="round" xml:space="preserve">27,5”</text>
<text transform="matrix(0.20619 0 0 0.21957 1074.25 761.33)" font-family='"Liberation Sans", sans-serif' font-weight="400" font-size="100" fill="#ffffff" stroke="#ffffff" stroke-width="2.58" stroke-linejoin="round" xml:space="preserve">70</text>
<text transform="matrix(0.19472 0 0 0.22826 1159.76 728.33)" font-family='"Liberation Sans", sans-serif' font-weight="400" font-size="100" fill="#ffffff" stroke="#ffffff" stroke-width="2.60" stroke-linejoin="round" xml:space="preserve">14,5”</text>
<text transform="matrix(0.20619 0 0 0.21957 1170.11 761.33)" font-family='"Liberation Sans", sans-serif' font-weight="400" font-size="100" fill="#ffffff" stroke="#ffffff" stroke-width="2.58" stroke-linejoin="round" xml:space="preserve">37</text>
<text transform="matrix(0.19472 0 0 0.22826 1255.91 728.33)" font-family='"Liberation Sans", sans-serif' font-weight="400" font-size="100" fill="#ffffff" stroke="#ffffff" stroke-width="2.60" stroke-linejoin="round" xml:space="preserve">14,1”</text>
<text transform="matrix(0.20619 0 0 0.21957 1262.51 761.33)" font-family='"Liberation Sans", sans-serif' font-weight="400" font-size="100" fill="#ffffff" stroke="#ffffff" stroke-width="2.58" stroke-linejoin="round" xml:space="preserve">36</text>
<text transform="matrix(0.23011 0 0 0.21622 113.38 88.08)" font-family='"DejaVu Sans", sans-serif' font-weight="700" font-size="100" fill="#f2661b" xml:space="preserve">4.</text>
<text transform="matrix(0.08654 0 0 0.22466 190.20 147.60)" font-family='"DejaVu Sans", sans-serif' font-weight="700" font-size="100" fill="#f2661b" filter="url(#fat1)" xml:space="preserve">1<tspan dx="22">.</tspan></text>
<text transform="matrix(0.22022 0 0 0.21622 290.94 97.60)" font-family='"DejaVu Sans", sans-serif' font-weight="700" font-size="100" fill="#f2661b" xml:space="preserve">2.</text>
<text transform="matrix(0.21011 0 0 0.21757 474.12 76.88)" font-family='"DejaVu Sans", sans-serif' font-weight="700" font-size="100" fill="#f2661b" xml:space="preserve">5.</text>
<text transform="matrix(0.20778 0 0 0.21053 289.85 467.59)" font-family='"DejaVu Sans", sans-serif' font-weight="700" font-size="100" fill="#f2661b" xml:space="preserve">3.</text>
<text transform="matrix(0.13887 0 0 0.13289 296.45 396.17)" font-family='"DejaVu Sans", sans-serif' font-weight="700" font-size="100" fill="#f2661b" xml:space="preserve">FRONT</text>
<text transform="matrix(0.14430 0 0 0.14474 300.60 759.46)" font-family='"DejaVu Sans", sans-serif' font-weight="700" font-size="100" fill="#f2661b" xml:space="preserve">BACK</text>
<text transform="matrix(0.24046 0 0 0.26087 58.00 802.50)" font-family='"Liberation Sans", sans-serif' font-weight="700" font-size="100" fill="#0a0a0a" xml:space="preserve">Women's</text>
<text transform="matrix(0.23815 0 0 0.26087 169.39 802.50)" font-family='"Liberation Sans", sans-serif' font-weight="700" font-size="100" fill="#0a0a0a" xml:space="preserve">Amateur</text>
<text transform="matrix(0.22981 0 0 0.26087 272.78 802.50)" font-family='"Liberation Sans", sans-serif' font-weight="700" font-size="100" fill="#0a0a0a" xml:space="preserve">Cut</text>
<text transform="matrix(0.22679 0 0 0.26087 316.54 802.50)" font-family='"Liberation Sans", sans-serif' font-weight="700" font-size="100" fill="#0a0a0a" xml:space="preserve">"Relaxed</text>
<text transform="matrix(0.26218 0 0 0.26087 418.96 802.50)" font-family='"Liberation Sans", sans-serif' font-weight="700" font-size="100" fill="#0a0a0a" xml:space="preserve">Fit"</text>
</g>
</svg>
</body>
</html>
